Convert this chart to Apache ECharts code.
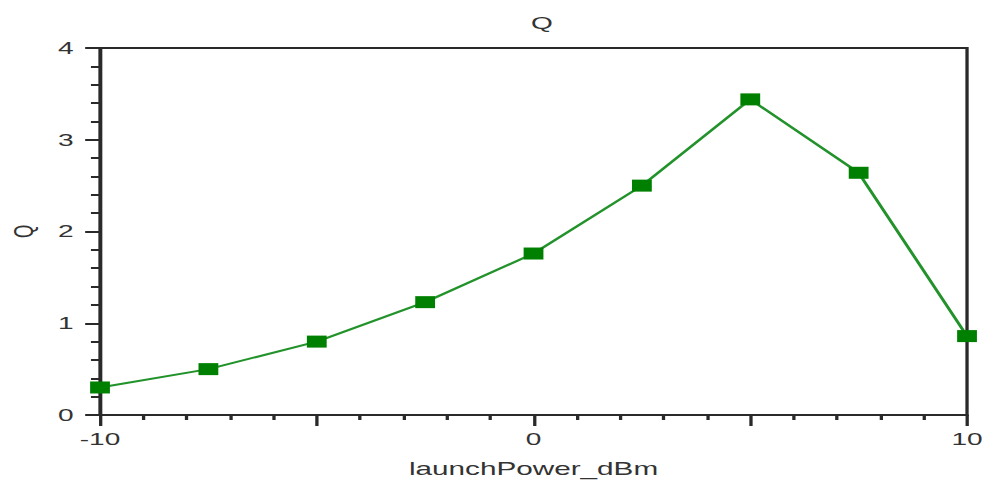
<!DOCTYPE html>
<html>
<head>
<meta charset="utf-8">
<title>Q</title>
<script src="https://cdn.jsdelivr.net/npm/echarts@6/dist/echarts.min.js"></script>
<style>
  html, body { margin: 0; padding: 0; background: #fff; }
  #wrap { width: 987px; height: 482px; overflow: hidden; }
  /* the plot is laid out on a narrower canvas and widened horizontally */
  #chart { width: 598px; height: 482px; transform: scaleX(1.6505); transform-origin: 0 0; }
</style>
</head>
<body>
<div id="wrap"><div id="chart"></div></div>
<script>
// launch power sweep (dBm) and the resulting Q factor
const launchPower = [-10, -7.5, -5, -2.5, 0, 2.5, 5, 7.5, 10];
const qValues = [0.30, 0.50, 0.80, 1.23, 1.76, 2.50, 3.44, 2.64, 0.86];
// x tick labels that are printed (others left blank)
const xLabelValues = [-10, 0, 10];

const FONT = 'Arial, "Liberation Sans", sans-serif';
const AXIS_COLOR = '#2a2a2a';
const TEXT_COLOR = '#333333';

const GRID_LEFT = 60.6;
const GRID_RIGHT = 12.1;
const CHART_W = 598;

const chart = echarts.init(document.getElementById('chart'), null, { renderer: 'svg' });

// title centred over the plotting area rather than the whole canvas
const plotCentre = GRID_LEFT + (CHART_W - GRID_LEFT - GRID_RIGHT) / 2;

chart.setOption({
  backgroundColor: '#fff',
  animation: false,
  title: {
    text: 'Q',
    left: plotCentre - 6.6,
    top: 10,
    textStyle: { fontFamily: FONT, fontSize: 17, fontWeight: 'normal', color: TEXT_COLOR }
  },
  grid: {
    left: GRID_LEFT, right: GRID_RIGHT, top: 48, bottom: 67,
    containLabel: false,
    outerBoundsMode: 'none',
    show: true, borderColor: AXIS_COLOR, borderWidth: 2, backgroundColor: 'transparent'
  },
  xAxis: {
    type: 'value',
    min: -10, max: 10, interval: 5,
    name: 'launchPower_dBm',
    nameLocation: 'middle',
    nameGap: 45,
    nameTextStyle: { fontFamily: FONT, fontSize: 18, color: TEXT_COLOR },
    axisLine: { show: true, onZero: false, lineStyle: { color: AXIS_COLOR, width: 2 } },
    axisTick: { show: true, inside: false, length: 11, lineStyle: { color: AXIS_COLOR, width: 2 } },
    minorTick: { show: true, splitNumber: 5, length: 5, lineStyle: { color: AXIS_COLOR, width: 2 } },
    splitLine: { show: false },
    axisLabel: {
      margin: 16,
      fontFamily: FONT, fontSize: 17, color: TEXT_COLOR,
      showMinLabel: true, showMaxLabel: true,
      formatter: v => (xLabelValues.includes(v) ? String(v) : '')
    }
  },
  yAxis: {
    type: 'value',
    min: 0, max: 4, interval: 1,
    name: 'Q',
    nameLocation: 'middle',
    nameGap: 38,
    nameRotate: 90,
    nameTextStyle: { fontFamily: FONT, fontSize: 17, color: TEXT_COLOR },
    axisLine: { show: true, onZero: false, lineStyle: { color: AXIS_COLOR, width: 2 } },
    axisTick: { show: true, inside: false, length: 9, lineStyle: { color: AXIS_COLOR, width: 2 } },
    minorTick: { show: true, splitNumber: 5, length: 5.5, lineStyle: { color: AXIS_COLOR, width: 2 } },
    splitLine: { show: false },
    axisLabel: { margin: 16, fontFamily: FONT, fontSize: 17, color: TEXT_COLOR }
  },
  series: [{
    type: 'line',
    data: launchPower.map((x, i) => [x, qValues[i]]),
    symbol: 'rect',
    symbolSize: [12, 12],
    showAllSymbol: true,
    clip: false,
    lineStyle: { color: '#22922a', width: 2 },
    itemStyle: { color: '#008000', borderWidth: 0 }
  }]
});
</script>
</body>
</html>
